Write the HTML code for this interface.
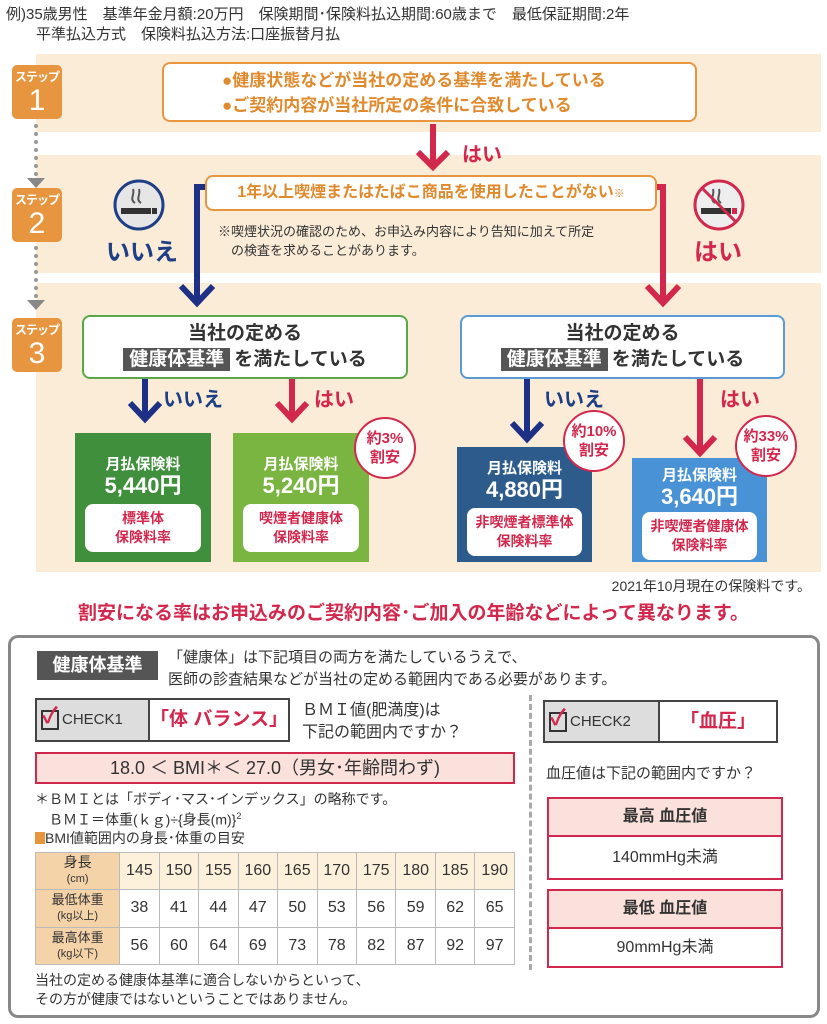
<!DOCTYPE html>
<html><head><meta charset="utf-8"><style>
*{margin:0;padding:0;box-sizing:border-box}
body{width:827px;height:1024px;position:relative;background:#fff;font-family:"Liberation Sans","Noto Sans CJK JP",sans-serif;color:#333;overflow:hidden}
.a{position:absolute}
.band{position:absolute;background:#fbecd7;left:36px;right:6px}
.badge{position:absolute;left:12px;width:50px;height:54px;background:#e8953f;border-radius:5px;color:#fff;text-align:center}
.badge .s{font-size:12px;font-weight:bold;margin-top:3px;letter-spacing:-1px}
.badge .n{font-size:30px;line-height:32px}
.dots{position:absolute;left:34px;width:4px;border-left:4px dotted #999}
.tri{position:absolute;left:27px;width:0;height:0;border-left:9px solid transparent;border-right:9px solid transparent;border-top:10px solid #888}
.box3{position:absolute;background:#fff;border-radius:8px;text-align:center;font-size:19px;font-weight:bold;color:#333}
.lbl{background:#555;color:#fff;padding:1px 6px;margin-right:4px}
.res{position:absolute;color:#fff;text-align:center;font-weight:bold}
.res .t{font-size:15px}
.res .p{font-size:22px;line-height:24px}
.res .w{background:#fff;color:#d2284d;border-radius:8px;margin:6px 10px 0;font-size:14px;line-height:19px;padding:5px 0}
.circ{position:absolute;width:62px;height:62px;border-radius:50%;border:2px solid #d2284d;background:#fff;color:#d2284d;font-weight:bold;text-align:center;font-size:15px;line-height:19px;padding-top:10px}
td{border:1px solid #bbb;text-align:center;font-size:16px;width:38px}
</style></head><body>
<div class="a" style="left:6px;top:5px;font-size:15px;line-height:20px">例)35歳男性　基準年金月額:20万円　保険期間･保険料払込期間:60歳まで　最低保証期間:2年<br>　　平準払込方式　保険料払込方法:口座振替月払</div>

<div class="band" style="top:54px;height:78px"></div>
<div class="band" style="top:155px;height:118px"></div>
<div class="band" style="top:283px;height:289px"></div>

<div class="badge" style="top:65px"><div class="s">ステップ</div><div class="n">1</div></div>
<div class="badge" style="top:188px"><div class="s">ステップ</div><div class="n">2</div></div>
<div class="badge" style="top:318px"><div class="s">ステップ</div><div class="n">3</div></div>
<div class="dots" style="top:124px;height:52px"></div><div class="tri" style="top:178px"></div>
<div class="dots" style="top:246px;height:52px"></div><div class="tri" style="top:300px"></div>

<div class="a" style="left:162px;top:62px;width:535px;height:60px;border:2px solid #e8953f;border-radius:8px;background:#fff;color:#e08a2e;font-size:17px;font-weight:bold;line-height:25px;padding:4px 0 0 58px">●健康状態などが当社の定める基準を満たしている<br>●ご契約内容が当社所定の条件に合致している</div>

<svg class="a" style="left:0;top:0" width="827" height="580">
<g fill="none" stroke-width="6">
<path d="M433 124V166" stroke="#d2284d"/><path d="M418 152L433 167L448 152" stroke="#d2284d"/>
<path d="M209 187H197V302" stroke="#1e2f86"/><path d="M181 286L197 303L213 286" stroke="#1e2f86"/>
<path d="M652 187H663V302" stroke="#d2284d"/><path d="M647 286L663 303L679 286" stroke="#d2284d"/>
<path d="M145 379V418" stroke="#1e2f86"/><path d="M130 403L145 419L160 403" stroke="#1e2f86"/>
<path d="M292 379V418" stroke="#d2284d"/><path d="M277 403L292 419L307 403" stroke="#d2284d"/>
<path d="M527 379V438" stroke="#1e2f86"/><path d="M512 423L527 439L542 423" stroke="#1e2f86"/>
<path d="M700 379V452" stroke="#d2284d"/><path d="M685 437L700 453L715 437" stroke="#d2284d"/>
</g>
<circle cx="139" cy="205" r="24" fill="#e6e6e6" stroke="#1e3f86" stroke-width="3"/>
<rect x="121" y="208" width="30" height="6" fill="#333"/><rect x="152" y="208" width="5" height="6" fill="#333"/>
<path d="M135 203c-6-4 0-8-2-14M141 203c-6-4 0-8-2-14" stroke="#555" stroke-width="2" fill="none"/>
<circle cx="719" cy="205" r="24" fill="#eee" stroke="#d2284d" stroke-width="3"/>
<rect x="701" y="208" width="30" height="6" fill="#333"/><rect x="732" y="208" width="5" height="6" fill="#d2284d"/>
<path d="M715 203c-6-4 0-8-2-14M721 203c-6-4 0-8-2-14" stroke="#555" stroke-width="2" fill="none"/>
<path d="M702 188L736 222" stroke="#d2284d" stroke-width="3"/>
</svg>
<div class="a" style="left:462px;top:138px;color:#d2284d;font-size:20px;font-weight:bold">はい</div>
<div class="a" style="left:205px;top:175px;width:452px;height:36px;border:2px solid #e8953f;border-radius:8px;background:#fff;color:#e08a2e;font-size:16px;font-weight:bold;line-height:32px;text-align:center">1年以上喫煙またはたばこ商品を使用したことがない<span style="font-size:11px">※</span></div>
<div class="a" style="left:218px;top:222px;font-size:13px;line-height:19px">※喫煙状況の確認のため、お申込み内容により告知に加えて所定<br>　の検査を求めることがあります。</div>
<div class="a" style="left:106px;top:232px;color:#1e3f86;font-size:24px;font-weight:bold">いいえ</div>
<div class="a" style="left:694px;top:232px;color:#d2284d;font-size:24px;font-weight:bold">はい</div>

<div class="box3" style="left:82px;top:315px;width:326px;height:64px;border:2px solid #5aa84a;padding-top:1px">当社の定める<br><span style="line-height:30px"><span class="lbl">健康体基準</span>を満たしている</span></div>
<div class="box3" style="left:460px;top:315px;width:325px;height:64px;border:2px solid #5a9bd5;padding-top:1px">当社の定める<br><span style="line-height:30px"><span class="lbl">健康体基準</span>を満たしている</span></div>
<div class="a" style="left:163px;top:383px;color:#1e3f86;font-size:20px;font-weight:bold">いいえ</div>
<div class="a" style="left:314px;top:383px;color:#d2284d;font-size:20px;font-weight:bold">はい</div>
<div class="a" style="left:544px;top:383px;color:#1e3f86;font-size:20px;font-weight:bold">いいえ</div>
<div class="a" style="left:720px;top:383px;color:#d2284d;font-size:20px;font-weight:bold">はい</div>

<div class="res" style="left:75px;top:433px;width:136px;height:129px;background:#3f8f3d;padding-top:20px"><div class="t">月払保険料</div><div class="p">5,440円</div><div class="w">標準体<br>保険料率</div></div>
<div class="res" style="left:233px;top:433px;width:136px;height:129px;background:#7ab541;padding-top:20px"><div class="t">月払保険料</div><div class="p">5,240円</div><div class="w">喫煙者健康体<br>保険料率</div></div>
<div class="res" style="left:457px;top:447px;width:135px;height:115px;background:#2d5b8c;padding-top:10px"><div class="t">月払保険料</div><div class="p">4,880円</div><div class="w">非喫煙者標準体<br>保険料率</div></div>
<div class="res" style="left:632px;top:458px;width:135px;height:104px;background:#4a92d6;padding-top:6px"><div class="t">月払保険料</div><div class="p">3,640円</div><div class="w" style="margin-top:3px">非喫煙者健康体<br>保険料率</div></div>
<div class="circ" style="left:354px;top:417px">約3%<br>割安</div>
<div class="circ" style="left:563px;top:410px">約10%<br>割安</div>
<div class="circ" style="left:735px;top:415px">約33%<br>割安</div>

<div class="a" style="right:16px;top:576px;font-size:14px">2021年10月現在の保険料です。</div>
<div class="a" style="left:0;width:827px;top:598px;text-align:center;color:#d2284d;font-size:19px;font-weight:bold">割安になる率はお申込みのご契約内容･ご加入の年齢などによって異なります。</div>

<div class="a" style="left:8px;top:635px;width:812px;height:383px;border:3px solid #888;border-radius:10px"></div>
<div class="a" style="left:37px;top:651px;width:121px;height:29px;background:#555;color:#fff;font-size:18px;font-weight:bold;text-align:center;line-height:29px">健康体基準</div>
<div class="a" style="left:168px;top:647px;font-size:15px;line-height:22px">「健康体」は下記項目の両方を満たしているうえで、<br>医師の診査結果などが当社の定める範囲内である必要があります。</div>

<div class="a" style="left:35px;top:698px;width:255px;height:44px;border:2px solid #444;display:flex">
<div style="width:113px;background:#ddd;border-right:2px solid #444;font-size:15px;line-height:40px;padding-left:4px"><span style="display:inline-block;width:18px;height:20px;border:2px solid #333;vertical-align:middle;position:relative;margin-right:3px"><span style="position:absolute;left:-1px;top:-8px;color:#d2284d;font-size:22px;font-weight:bold;line-height:24px">✓</span></span>CHECK1</div>
<div style="flex:1;color:#d2284d;font-size:19px;font-weight:bold;line-height:40px;text-align:center">「体 バランス」</div></div>
<div class="a" style="left:302px;top:700px;font-size:16px;line-height:22px">ＢＭＩ値(肥満度)は<br>下記の範囲内ですか？</div>
<div class="a" style="left:35px;top:752px;width:480px;height:32px;border:2px solid #d2284d;background:#fbe1dc;text-align:center;font-size:18px;line-height:28px">18.0 ＜ BMI＊＜ 27.0（男女･年齢問わず)</div>
<div class="a" style="left:35px;top:791px;font-size:14px;line-height:17px">＊ＢＭＩとは「ボディ･マス･インデックス」の略称です。<br>　ＢＭＩ＝体重(ｋｇ)÷{身長(m)}<sup style="font-size:9px">2</sup></div>
<div class="a" style="left:35px;top:828px;font-size:14px"><span style="display:inline-block;width:10px;height:12px;background:#e8953f;vertical-align:-1px"></span>BMI値範囲内の身長･体重の目安</div>
<table class="a" style="left:35px;top:852px;width:480px;height:113px;border-collapse:collapse">
<tr style="background:#fdf1dc"><td style="width:81px;background:#f5d3a8;font-size:14px;line-height:15px">身長<br><span style="font-size:11px">(cm)</span></td><td>145</td><td>150</td><td>155</td><td>160</td><td>165</td><td>170</td><td>175</td><td>180</td><td>185</td><td>190</td></tr>
<tr><td style="background:#f5d3a8;font-size:13px;line-height:15px">最低体重<br><span style="font-size:11px">(kg以上)</span></td><td>38</td><td>41</td><td>44</td><td>47</td><td>50</td><td>53</td><td>56</td><td>59</td><td>62</td><td>65</td></tr>
<tr><td style="background:#f5d3a8;font-size:13px;line-height:15px">最高体重<br><span style="font-size:11px">(kg以下)</span></td><td>56</td><td>60</td><td>64</td><td>69</td><td>73</td><td>78</td><td>82</td><td>87</td><td>92</td><td>97</td></tr>
</table>
<div class="a" style="left:35px;top:971px;font-size:14px;line-height:19px">当社の定める健康体基準に適合しないからといって、<br>その方が健康ではないということではありません。</div>

<div class="a" style="left:529px;top:695px;height:275px;border-left:3px dashed #aaa"></div>
<div class="a" style="left:543px;top:700px;width:235px;height:43px;border:2px solid #444;display:flex">
<div style="width:115px;background:#ddd;border-right:2px solid #444;font-size:15px;line-height:39px;padding-left:4px"><span style="display:inline-block;width:18px;height:20px;border:2px solid #333;vertical-align:middle;position:relative;margin-right:3px"><span style="position:absolute;left:-1px;top:-8px;color:#d2284d;font-size:22px;font-weight:bold;line-height:24px">✓</span></span>CHECK2</div>
<div style="flex:1;color:#d2284d;font-size:19px;font-weight:bold;line-height:39px;text-align:center">「血圧」</div></div>
<div class="a" style="left:546px;top:762px;font-size:15px">血圧値は下記の範囲内ですか？</div>
<div class="a" style="left:547px;top:797px;width:236px;height:83px;border:2px solid #d2284d">
<div style="height:38px;background:#fbe1dc;border-bottom:2px solid #d2284d;text-align:center;font-size:16px;font-weight:bold;line-height:36px">最高 血圧値</div>
<div style="text-align:center;font-size:16px;line-height:42px">140mmHg未満</div></div>
<div class="a" style="left:547px;top:889px;width:236px;height:79px;border:2px solid #d2284d">
<div style="height:38px;background:#fbe1dc;border-bottom:2px solid #d2284d;text-align:center;font-size:16px;font-weight:bold;line-height:36px">最低 血圧値</div>
<div style="text-align:center;font-size:16px;line-height:38px">90mmHg未満</div></div>
</body></html>
